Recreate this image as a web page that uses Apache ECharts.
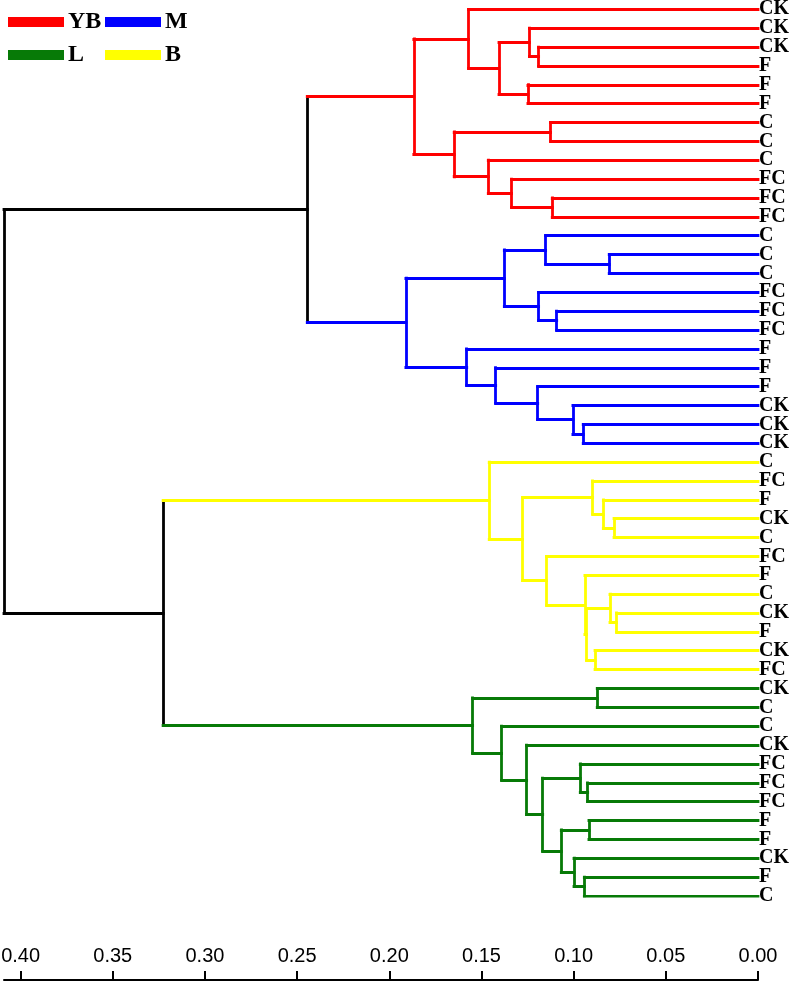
<!DOCTYPE html>
<html>
<head>
<meta charset="utf-8">
<script src="https://cdn.jsdelivr.net/npm/echarts@6/dist/echarts.min.js"></script>
<style>
  html, body { margin: 0; padding: 0; background: #fff; }
  #chart { width: 791px; height: 983px; }
</style>
</head>
<body>
<div id="chart"></div>
<script>
// leaf labels, top to bottom
const leafLabels = [
  'CK', 'CK', 'CK', 'F', 'F', 'F', 'C', 'C', 'C', 'FC', 'FC', 'FC',
  'C', 'C', 'C', 'FC', 'FC', 'FC', 'F', 'F', 'F', 'CK', 'CK', 'CK',
  'C', 'FC', 'F', 'CK', 'C', 'FC', 'F', 'C', 'CK', 'F', 'CK', 'FC',
  'CK', 'C', 'C', 'CK', 'FC', 'FC', 'FC', 'F', 'F', 'CK', 'F', 'C'
];
// cluster of each leaf
const leafGroup = [
  'YB', 'YB', 'YB', 'YB', 'YB', 'YB', 'YB', 'YB', 'YB', 'YB', 'YB', 'YB',
  'M', 'M', 'M', 'M', 'M', 'M', 'M', 'M', 'M', 'M', 'M', 'M',
  'B', 'B', 'B', 'B', 'B', 'B', 'B', 'B', 'B', 'B', 'B', 'B',
  'L', 'L', 'L', 'L', 'L', 'L', 'L', 'L', 'L', 'L', 'L', 'L'
];
// merges: [child a, child b, height]; ids < 48 are leaves, merge k gets id 48 + k
const merges = [
  // YB
  [2, 3, 0.119], [1, 48, 0.124], [4, 5, 0.1248], [49, 50, 0.1405], [0, 51, 0.157],
  [6, 7, 0.1125], [10, 11, 0.1116], [9, 54, 0.1337], [8, 55, 0.1463], [53, 56, 0.1648],
  [52, 57, 0.1867],
  // M
  [13, 14, 0.0807], [12, 59, 0.1152], [16, 17, 0.1092], [15, 61, 0.119], [60, 62, 0.1376],
  [22, 23, 0.0948], [21, 64, 0.1004], [20, 65, 0.1195], [19, 66, 0.1423], [18, 67, 0.158],
  [63, 68, 0.191],
  // B
  [27, 28, 0.0781], [26, 70, 0.0839], [25, 71, 0.0897], [32, 33, 0.0767], [31, 73, 0.0803],
  [34, 35, 0.0884], [74, 75, 0.093], [30, 76, 0.0939], [29, 77, 0.1147], [72, 78, 0.1277],
  [24, 79, 0.1458],
  // L
  [36, 37, 0.0872], [41, 42, 0.0924], [40, 82, 0.0964], [43, 44, 0.0917], [46, 47, 0.0942],
  [45, 85, 0.0998], [84, 86, 0.1067], [83, 87, 0.1168], [39, 88, 0.1255], [38, 89, 0.1391],
  [81, 90, 0.1548],
  // top
  [58, 69, 0.2445], [80, 91, 0.3227], [92, 93, 0.409]
];
const groupNames = ['YB', 'M', 'L', 'B'];
const groupColors = { YB: '#ff0000', M: '#0000ff', L: '#077a07', B: '#ffff00', root: '#000000' };

function drawDendrogram() {
  const n = leafLabels.length;
  const nodeH = [], nodeY = [], nodeGroup = [];
  for (let i = 0; i < n; i++) {
    nodeH[i] = 0;
    nodeY[i] = i;
    nodeGroup[i] = leafGroup[i];
  }
  merges.forEach(([a, b, h], k) => {
    const id = n + k;
    nodeH[id] = h;
    nodeY[id] = (nodeY[a] + nodeY[b]) / 2;
    nodeGroup[id] = nodeGroup[a] === nodeGroup[b] ? nodeGroup[a] : 'root';
  });

  // vertical link in the node colour, horizontal arms in the child's colour
  const segs = { YB: [], M: [], L: [], B: [], root: [] };
  merges.forEach(([a, b, h], k) => {
    const id = n + k;
    segs[nodeGroup[id]].push({ coords: [[h, nodeY[a]], [h, nodeY[b]]] });
    [a, b].forEach(c => {
      segs[nodeGroup[c]].push({ coords: [[nodeH[c], nodeY[c]], [h, nodeY[c]]] });
    });
  });

  const series = ['root'].concat(groupNames).map(g => ({
    name: g,
    type: 'lines',
    coordinateSystem: 'cartesian2d',
    xAxisIndex: 0,
    yAxisIndex: 0,
    silent: true,
    lineStyle: { color: groupColors[g], width: 2.8, opacity: 1, cap: 'square' },
    data: segs[g]
  }));

  const legendBase = {
    orient: 'vertical',
    top: 10,
    padding: 0,
    itemGap: 9,
    icon: 'rect',
    itemWidth: 54,
    itemHeight: 8,
    selectedMode: false,
    textStyle: {
      fontFamily: 'Liberation Serif',
      fontWeight: 'bold',
      fontSize: 24,
      color: '#000'
    }
  };
  const legendItem = g => ({ name: g, itemStyle: { color: groupColors[g] } });

  let myChart = echarts.init(document.getElementById('chart'));
  let option = {
    animation: false,
    backgroundColor: '#fff',
    legend: [
      Object.assign({}, legendBase, { left: 8, data: [legendItem('YB'), legendItem('L')] }),
      Object.assign({}, legendBase, { left: 105, data: [legendItem('M'), legendItem('B')] })
    ],
    grid: {
      left: 4,
      right: 33,
      top: 9.3,
      bottom: 87,
      containLabel: false,
      outerBoundsMode: 'none'
    },
    xAxis: {
      type: 'value',
      min: 0,
      max: 0.409,
      interval: 0.05,
      inverse: true,
      position: 'bottom',
      offset: 84,
      axisLine: { show: true, onZero: false, lineStyle: { color: '#000', width: 2 } },
      axisTick: { show: true, inside: true, length: 9, lineStyle: { color: '#000', width: 2 } },
      axisLabel: {
        inside: true,
        margin: 14,
        showMaxLabel: false,
        fontFamily: 'Liberation Sans',
        fontSize: 20,
        color: '#000',
        formatter: v => v.toFixed(2)
      },
      splitLine: { show: false }
    },
    yAxis: [
      {
        type: 'value',
        min: 0,
        max: leafLabels.length - 1,
        inverse: true,
        show: false
      },
      {
        type: 'category',
        data: leafLabels,
        inverse: true,
        boundaryGap: false,
        position: 'right',
        axisLine: { show: false },
        axisTick: { show: false },
        splitLine: { show: false },
        axisLabel: {
          interval: 0,
          margin: 1,
          fontFamily: 'Liberation Serif',
          fontWeight: 'bold',
          fontSize: 20,
          color: '#000'
        }
      }
    ],
    series: series
  };
  option && myChart.setOption(option);
  return myChart;
}

drawDendrogram();
</script>
</body>
</html>
